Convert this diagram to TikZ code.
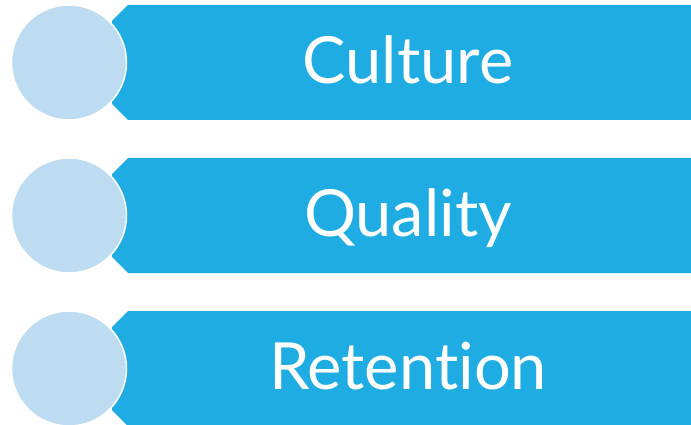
\documentclass[tikz,border=0pt]{standalone}
\usepackage{fontspec}
\setmainfont{Lato}[Ligatures=NoCommon]
\usetikzlibrary{shapes,positioning}
\definecolor{bannerblue}{HTML}{1EACE2}
\definecolor{disclight}{HTML}{BDDBF1}

\begin{document}
\begin{tikzpicture}[x=1pt,y=-1pt,
    banner/.style={fill=bannerblue},
    bannertext/.style={text=white,inner sep=0pt,text height=47pt,text depth=5pt,
      font=\fontsize{65}{70}\selectfont},
    disc/.style={circle,fill=disclight,draw=white,line width=1.5pt,minimum size=115pt,inner sep=0pt}]
        \useasboundingbox (0,0) rectangle (691,425);
        \fill[banner] (112,21) -- (128,5) -- (700,5) -- (700,120) -- (128,120) -- (112,104) -- cycle;
        \fill[banner] (112,174) -- (128,158) -- (700,158) -- (700,273) -- (128,273) -- (112,257) -- cycle;
        \fill[banner] (112,327) -- (128,311) -- (700,311) -- (700,426) -- (128,426) -- (112,410) -- cycle;

        \node (T1) at (408,62.5) [bannertext] {Culture};
        \node (T2) at (408,215.5) [bannertext] {Quality};
        \node (T3) at (408,368.5) [bannertext] {Retention};

        \node (D1) at (69,62.5) [disc] {};
        \node (D2) at (69,215.5) [disc] {};
        \node (D3) at (69,368.5) [disc] {};
    \end{tikzpicture}
\end{document}
